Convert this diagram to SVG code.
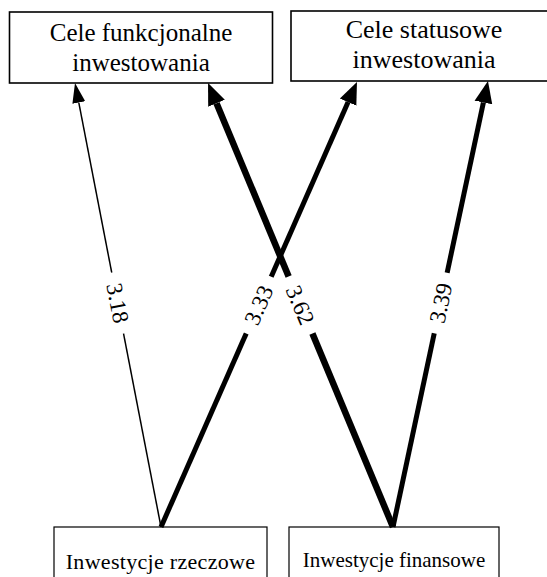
<svg xmlns="http://www.w3.org/2000/svg" width="547" height="577" viewBox="0 0 547 577">
  <defs>
    <marker id="head-thin" markerUnits="userSpaceOnUse" markerWidth="22" markerHeight="16" refX="0" refY="7" orient="auto">
      <path d="M0,0.5 L20,7 L0,13.5 z" fill="#000000"/>
    </marker>
    <marker id="head-bold" markerUnits="userSpaceOnUse" markerWidth="24" markerHeight="22" refX="0" refY="10" orient="auto">
      <path d="M0,1 L22,10 L0,19 z" fill="#000000"/>
    </marker>
  </defs>

  <rect width="547" height="577" fill="#ffffff"/>

  <!-- target boxes -->
  <g id="cele-funkcjonalne">
    <rect x="9.5" y="12" width="263" height="71" fill="#ffffff" stroke="#000000" stroke-width="1.6"/>
    <text x="141" y="41" font-family="Liberation Serif" font-size="25" text-anchor="middle" fill="#000000">Cele funkcjonalne</text>
    <text x="141" y="71" font-family="Liberation Serif" font-size="25" text-anchor="middle" fill="#000000">inwestowania</text>
  </g>

  <g id="cele-statusowe">
    <rect x="291" y="11" width="266" height="70" fill="#ffffff" stroke="#000000" stroke-width="1.6"/>
    <text x="424" y="38" font-family="Liberation Serif" font-size="26" text-anchor="middle" fill="#000000">Cele statusowe</text>
    <text x="424" y="68" font-family="Liberation Serif" font-size="26" text-anchor="middle" fill="#000000">inwestowania</text>
  </g>

  <!-- source boxes -->
  <g id="inwestycje-rzeczowe">
    <rect x="54" y="527" width="213" height="60" fill="#ffffff" stroke="#000000" stroke-width="1.2"/>
    <text x="160.5" y="569" font-family="Liberation Serif" font-size="22" letter-spacing="0.3" text-anchor="middle" fill="#000000">Inwestycje rzeczowe</text>
  </g>

  <g id="inwestycje-finansowe">
    <rect x="289" y="527" width="210" height="60" fill="#ffffff" stroke="#000000" stroke-width="1.2"/>
    <text x="394" y="566.5" font-family="Liberation Serif" font-size="21" text-anchor="middle" fill="#000000">Inwestycje finansowe</text>
  </g>

  <!-- weighted links; label plates mask the line behind each value -->
  <g id="connectors" stroke="#000000" fill="none">
    <line x1="161" y1="527" x2="78.8" y2="102.6" stroke-width="1.5" marker-end="url(#head-thin)"/>
    <line x1="161" y1="527" x2="348.1" y2="102.1" stroke-width="5" marker-end="url(#head-bold)"/>
    <line x1="393" y1="527" x2="216.5" y2="103.3" stroke-width="6.5" marker-end="url(#head-bold)"/>
    <line x1="393" y1="527" x2="483.4" y2="102.5" stroke-width="5" marker-end="url(#head-bold)"/>

    <g transform="translate(118,303) rotate(79.04)">
      <rect x="-31" y="-13" width="62" height="26" fill="#ffffff" stroke="none"/>
      <text x="0" y="8" font-family="Liberation Serif" font-size="23" text-anchor="middle" fill="#000000" stroke="none">3.18</text>
    </g>
    <g transform="translate(258.5,305) rotate(-66.23)">
      <rect x="-31" y="-13" width="62" height="26" fill="#ffffff" stroke="none"/>
      <text x="0" y="8" font-family="Liberation Serif" font-size="23" text-anchor="middle" fill="#000000" stroke="none">3.33</text>
    </g>
    <g transform="translate(300.5,305) rotate(67.38)">
      <rect x="-31" y="-13" width="62" height="26" fill="#ffffff" stroke="none"/>
      <text x="0" y="8" font-family="Liberation Serif" font-size="23" text-anchor="middle" fill="#000000" stroke="none">3.62</text>
    </g>
    <g transform="translate(440.5,303) rotate(-77.98)">
      <rect x="-31" y="-13" width="62" height="26" fill="#ffffff" stroke="none"/>
      <text x="0" y="8" font-family="Liberation Serif" font-size="23" text-anchor="middle" fill="#000000" stroke="none">3.39</text>
    </g>
  </g>
</svg>
